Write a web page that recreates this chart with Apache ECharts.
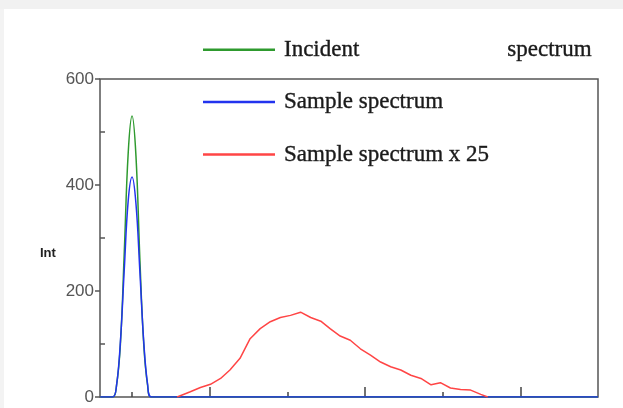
<!DOCTYPE html>
<html>
<head>
<meta charset="utf-8">
<script src="https://cdn.jsdelivr.net/npm/echarts@6/dist/echarts.min.js"></script>
<style>
  html, body { margin: 0; padding: 0; background: #fff; }
  #chart { width: 623px; height: 408px; }
</style>
</head>
<body>
<div id="chart"></div>
<script>
// peak region, shared x for incident + sample
const peakX = [0.59, 0.75, 0.8, 0.85, 0.9, 0.95, 1.0, 1.05, 1.1, 1.15, 1.2, 1.25, 7.0]
const incident = [0, 0, 22, 100, 275, 460, 530, 455, 262, 100, 22, 0, 0]
const sample = [0, 0, 22, 105, 242, 370, 415, 365, 238, 105, 24, 0, 0]

// sample x 25
const scaledX = [1.58, 1.75, 1.88, 2.01, 2.14, 2.26, 2.39, 2.52, 2.65, 2.78, 2.91, 3.04, 3.17,
  3.30, 3.43, 3.55, 3.68, 3.81, 3.94, 4.07, 4.20, 4.33, 4.46, 4.59, 4.72, 4.85, 4.97,
  5.10, 5.23, 5.36, 5.49, 5.58]
const scaled = [0, 10, 18, 24, 35, 51, 73, 110, 129, 142, 150, 154, 160,
  150, 143, 129, 115, 107, 91, 79, 66, 57, 51, 41, 35, 23, 27,
  17, 14, 13, 5, 0]

const yTicks = ["0", "200", "400", "600"]
const names = ["Incident spectrum", "Sample spectrum", "Sample spectrum x 25"]

const pairs = (xs, ys) => xs.map((x, i) => [x, ys[i]])

var chartDom = document.getElementById("chart")
let myChart = echarts.init(chartDom)

const option = {
  animation: false,
  backgroundColor: "#fff",
  graphic: [
    { type: "rect", shape: { x: 0, y: 0, width: 623, height: 9 }, style: { fill: "#f1f1f1" }, z: -1 },
    { type: "rect", shape: { x: 0, y: 9, width: 4, height: 399 }, style: { fill: "#f3f3f3" }, z: -1 },
    {
      type: "text",
      left: 40,
      top: 247,
      style: { text: "Int", font: "bold 13px Arial", fill: "#222" },
    },
  ],
  legend: {
    orient: "vertical",
    left: 198,
    top: 33,
    itemWidth: 72,
    itemHeight: 2.5,
    itemGap: 29,
    icon: "rect",
    data: names,
    formatter: (name) =>
      name === names[0] ? "{a|Incident}{g|}{a|spectrum}" : "{a|" + name + "}",
    textStyle: {
      rich: {
        a: {
          fontFamily: "Liberation Serif",
          fontSize: 23,
          color: "#1a1a1a",
          textBorderColor: "#333",
          textBorderWidth: 0.4,
          padding: [0, 0, 0, 4],
        },
        g: { width: 144 },
      },
    },
  },
  grid: {
    left: 100,
    right: 25,
    top: 79,
    bottom: 11,
    show: true,
    borderColor: "#555",
    borderWidth: 1.5,
  },
  xAxis: [
    {
      type: "value",
      min: 0.587,
      max: 7.0,
      axisLine: { show: false },
      splitLine: { show: false },
      axisLabel: { show: false },
      axisTick: { show: true, inside: true, length: 10, customValues: [2, 4, 6], lineStyle: { color: "#444", width: 1.5 } },
    },
    {
      type: "value",
      min: 0.587,
      max: 7.0,
      position: "bottom",
      axisLine: { show: false },
      splitLine: { show: false },
      axisLabel: { show: false },
      axisTick: { show: true, inside: true, length: 5, customValues: [1, 3, 5], lineStyle: { color: "#444", width: 1.5 } },
    },
  ],
  yAxis: [
    {
      type: "value",
      min: 0,
      max: 600,
      interval: 200,
      axisLine: { show: false },
      splitLine: { show: false },
      axisTick: { show: true, length: 5, lineStyle: { color: "#555", width: 1.5 } },
      axisLabel: {
        margin: 6,
        fontFamily: "Arial",
        fontSize: 17,
        color: "#555",
        formatter: (v) => yTicks[v / 200],
      },
    },
    {
      type: "value",
      min: 0,
      max: 600,
      position: "left",
      axisLine: { show: false },
      splitLine: { show: false },
      axisLabel: { show: false },
      axisTick: { show: true, inside: true, length: 5, customValues: [100, 300, 500], lineStyle: { color: "#555", width: 1.5 } },
    },
  ],
  series: [
    {
      name: names[0],
      type: "line",
      data: pairs(peakX, incident),
      smooth: 0.4,
      showSymbol: false,
      color: "#2e9a2e",
      lineStyle: { width: 1.5 },
    },
    {
      name: names[1],
      type: "line",
      data: pairs(peakX, sample),
      smooth: 0.4,
      showSymbol: false,
      color: "#2233ee",
      lineStyle: { width: 1.5 },
    },
    {
      name: names[2],
      type: "line",
      data: pairs(scaledX, scaled),
      showSymbol: false,
      color: "#ff4545",
      lineStyle: { width: 1.5 },
    },
  ],
}

option && myChart.setOption(option)
</script>
</body>
</html>
